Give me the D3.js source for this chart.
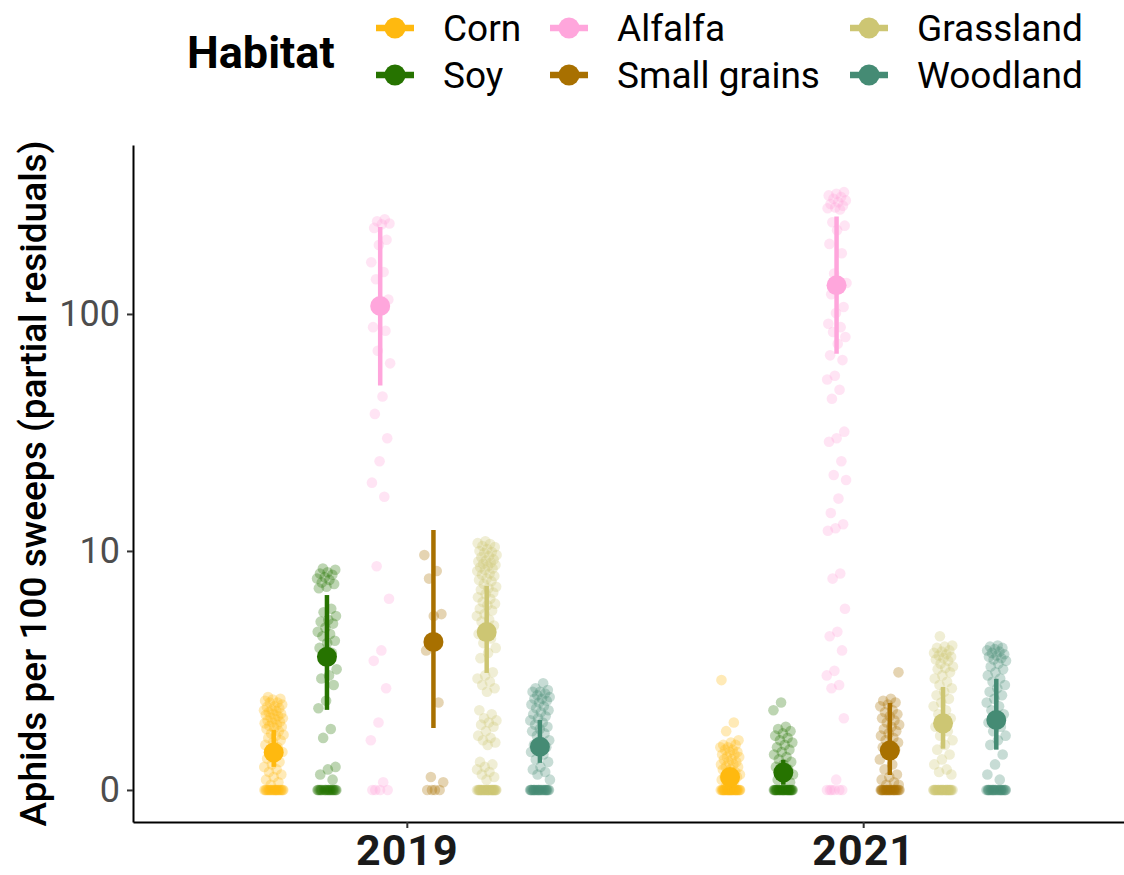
<!DOCTYPE html>
<html>
<head>
<meta charset="utf-8">
<script src="https://cdn.jsdelivr.net/npm/d3@7"></script>
<style>
  body { margin: 0; background: #fff; }
  text { font-family: Roboto, "Noto Sans", sans-serif; }
</style>
</head>
<body>
<svg id="chart" width="1124" height="875"></svg>
<script>
// ---- data ----------------------------------------------------------
const years = ["2019", "2021"];
const habitats = ["Corn", "Soy", "Alfalfa", "Small grains", "Grassland", "Woodland"];
const habitatColors = ["#FFB90F", "#267300", "#FFA6DC", "#A87000", "#CDC673", "#458B74"];
const yTickValues = [0, 10, 100];

// model estimates (aphids per 100 sweeps), order follows `habitats`
const est2019 = [0.74, 3.35, 108, 3.95, 4.39, 0.86];
const lo2019  = [0.45, 1.71, 50, 1.27, 2.78, 0.53];
const hi2019  = [1.23, 6.44, 232, 12.3, 7.06, 1.46];
const est2021 = [0.25, 0.34, 132, 0.78, 1.38, 1.46];
const lo2021  = [0.15, 0.10, 68, 0.29, 0.82, 0.80];
const hi2021  = [0.38, 0.59, 257, 1.89, 2.34, 2.59];

// partial residuals per habitat
const res2019Corn = [0,0,0,0,0,0,0,0,0,0,0,0,0,0,0,0,0,0,0,0,0,0,
  2.05,2.0,1.98,1.95,1.9,1.9,1.85,1.8,1.78,1.75,1.72,1.7,1.68,1.65,1.62,1.6,1.58,1.55,1.52,1.5,
  1.48,1.45,1.42,1.4,1.38,1.35,1.32,1.3,1.28,1.25,1.2,1.15,1.12,1.1,1.05,1.0,0.95,0.9,0.85,0.8,
  0.75,0.7,0.62,0.55,0.5,0.45,0.4,0.35,0.3,0.25,0.2,0.15,0.1];
const res2019Soy = [0,0,0,0,0,0,0,0,0,0,0,0,0,0,0,0,0,0,0,0,
  8.4,8.3,8.1,8.0,7.9,7.7,7.6,7.5,7.3,7.2,7.0,6.9,5.6,5.4,5.2,5.0,4.9,4.8,4.6,4.4,4.3,4.2,4.0,
  3.9,3.7,3.5,3.3,2.9,2.7,2.6,2.4,1.95,1.75,1.25,1.05,0.45,0.4,0.3,0.2];
const res2019Alfalfa = [0,0,0,0,
  250,245,240,238,230,205,195,165,150,140,115,108,88,85,70,62,45,38,30,24,19.5,17,8.6,6.2,
  3.6,3.2,2.3,1.4,1.0,0.15];
const res2019Small = [0,0,0,0, 9.6,8.2,7.6,5.3,5.2,3.6,1.9,0.25,0.15];
const res2019Grass = [0,0,0,0,0,0,0,0,0,0,0,0,0,0,0,0,0,0,0,0,0,0,0,0,0,0,0,0,0,0,
  11.0,10.8,10.7,10.5,10.4,10.2,10.0,9.9,9.8,9.6,9.5,9.4,9.2,9.1,9.0,8.9,8.8,8.7,
  8.6,8.5,8.4,8.3,8.2,8.0,7.9,7.8,7.6,7.5,7.4,7.2,7.0,6.9,6.8,6.6,6.5,6.3,6.2,6.0,5.9,5.8,
  5.6,5.5,5.3,5.2,5.0,4.9,4.7,4.5,4.3,4.1,3.9,3.7,3.5,3.3,2.8,2.7,2.6,2.5,2.4,2.3,2.2,
  1.7,1.6,1.5,1.45,1.4,1.35,1.3,1.2,1.1,1.05,1.0,0.95,0.9,0.55,0.5,0.45,0.4,0.35,0.3,0.25,0.2];
const res2019Wood = [0,0,0,0,0,0,0,0,0,0,0,0,0,0,0,0,0,0,0,0,0,0,0,0,0,
  2.45,2.3,2.25,2.2,2.2,2.15,2.1,2.05,2.0,2.0,1.95,1.9,1.85,1.8,1.75,1.7,1.65,1.6,1.55,1.5,
  1.45,1.4,1.35,1.3,1.25,1.2,1.15,1.1,1.0,0.95,0.9,0.85,0.8,0.75,0.7,0.6,0.55,0.45,0.4,0.35,0.3,0.2];

const res2021Corn = [0,0,0,0,0,0,0,0,0,0,0,0,0,0,0,0,0,0,0,0,0,0,0,0,0,0,0,0,0,0,
  2.55,1.4,1.2,1.0,0.95,0.9,0.9,0.85,0.85,0.8,0.8,0.75,0.75,0.7,0.7,0.65,0.65,0.6,0.6,0.55,
  0.55,0.5,0.5,0.45,0.45,0.4,0.4,0.35,0.35,0.3,0.3,0.25,0.25,0.2,0.2,0.15,0.1];
const res2021Soy = [0,0,0,0,0,0,0,0,0,0,0,0,0,0,0,0,0,0,0,0,0,0,0,0,0,0,0,0,0,0,
  1.9,1.7,1.3,1.25,1.2,1.15,1.1,1.05,1.0,0.95,0.9,0.85,0.8,0.75,0.7,0.65,0.6,0.55,0.5,0.45,
  0.4,0.35,0.3,0.25,0.2,0.15];
const res2021Alfalfa = [0,0,0,0,0,0,
  325,320,315,310,305,300,295,290,285,280,278,275,243,235,225,197,180,148,135,128,121,107,
  101,91,88,84,80,75,67,64,55,53,48,44,32,30,29,24,21,20,16.7,14.5,13,12.5,12.2,8,7.6,5.6,
  4.4,4.2,3.6,2.85,2.7,2.4,2.3,1.5,0.2];
const res2021Small = [0,0,0,0,0,0,0,0,0,0,0,0,0,0,0,0,0,0,0,0,0,0,0,0,0,
  2.8,2.0,1.95,1.9,1.85,1.8,1.7,1.65,1.6,1.55,1.5,1.45,1.4,1.35,1.3,1.25,1.2,1.15,1.1,1.05,
  1.0,0.95,0.9,0.85,0.8,0.7,0.6,0.5,0.4,0.3,0.25,0.2,0.15,0.1,0.1];
const res2021Grass = [0,0,0,0,0,0,0,0,0,0,0,0,0,0,0,0,0,0,0,0,0,0,0,0,0,0,0,0,0,0,
  4.2,3.8,3.75,3.7,3.6,3.55,3.5,3.45,3.4,3.35,3.3,3.25,3.2,3.1,3.0,2.95,2.9,2.8,2.7,2.6,2.5,
  2.4,2.3,2.2,2.1,2.0,1.9,1.8,1.7,1.6,1.5,1.4,1.3,1.2,1.1,1.0,0.9,0.8,0.7,0.6,0.5,0.4,0.35,0.3];
const res2021Wood = [0,0,0,0,0,0,0,0,0,0,0,0,0,0,0,0,0,0,0,0,0,0,0,0,0,
  3.8,3.75,3.7,3.65,3.6,3.55,3.5,3.45,3.4,3.35,3.3,3.25,3.2,3.1,3.0,2.9,2.8,2.7,2.6,2.5,2.4,
  2.3,2.2,2.1,2.0,1.9,1.8,1.7,1.6,1.5,1.4,1.3,1.2,1.1,1.0,0.9,0.7,0.5,0.3,0.2];

const residuals = {
  "2019": [res2019Corn, res2019Soy, res2019Alfalfa, res2019Small, res2019Grass, res2019Wood],
  "2021": [res2021Corn, res2021Soy, res2021Alfalfa, res2021Small, res2021Grass, res2021Wood]
};
const estimates = {
  "2019": { est: est2019, lo: lo2019, hi: hi2019 },
  "2021": { est: est2021, lo: lo2021, hi: hi2021 }
};

// ---- layout ----------------------------------------------------------
const svg = d3.select("#chart");
const panel = { left: 133, right: 1137, top: 145, bottom: 822 };

// pseudo-log transform: asinh(x / 2)
const pl = v => Math.asinh(v / 2);
const yT = d3.scaleLinear().domain([-0.31, 6.24]).range([panel.bottom, panel.top]);
const y = v => yT(pl(v));

const x = d3.scalePoint().domain(years).range([panel.left, panel.right]).padding(0.6);
const step = x.step();
const xd = d3.scaleBand().domain(habitats).range([-0.35 * step, 0.35 * step]);
const color = d3.scaleOrdinal().domain(habitats).range(habitatColors);
const cx = (yr, h) => x(yr) + xd(h) + xd.bandwidth() / 2;

// spread points sideways with a low-discrepancy sequence
const jitterWidth = 10;
const jitter = (i, k) => ((((i + 1) * 0.6180339887 + k * 0.3183) % 1) - 0.5) * 2 * jitterWidth;

// ---- residual points ----------------------------------------------
const pts = [];
years.forEach((yr, yi) => {
  habitats.forEach((h, hi) => {
    residuals[yr][hi].forEach((v, i) => {
      pts.push({ yr, h, v, dx: jitter(i, hi + yi * 6) });
    });
  });
});

svg.append("g").selectAll("circle").data(pts).join("circle")
  .attr("cx", d => cx(d.yr, d.h) + d.dx)
  .attr("cy", d => y(d.v))
  .attr("r", 5.3)
  .attr("fill", d => color(d.h))
  .attr("fill-opacity", 0.3);

// ---- estimates with intervals -------------------------------------
const ests = [];
years.forEach(yr => habitats.forEach((h, hi) => {
  ests.push({ yr, h, est: estimates[yr].est[hi], lo: estimates[yr].lo[hi], hi: estimates[yr].hi[hi] });
}));

const g = svg.append("g");
g.selectAll("line").data(ests).join("line")
  .attr("x1", d => cx(d.yr, d.h)).attr("x2", d => cx(d.yr, d.h))
  .attr("y1", d => y(d.lo)).attr("y2", d => y(d.hi))
  .attr("stroke", d => color(d.h))
  .attr("stroke-width", 4.5);
g.selectAll("circle").data(ests).join("circle")
  .attr("cx", d => cx(d.yr, d.h))
  .attr("cy", d => y(d.est))
  .attr("r", 10)
  .attr("fill", d => color(d.h));

// ---- axes ----------------------------------------------------------
const yAxis = svg.append("g")
  .attr("transform", `translate(${panel.left},0)`)
  .call(d3.axisLeft(yT)
    .tickValues(yTickValues.map(pl))
    .tickFormat((d, i) => yTickValues[i])
    .tickSize(6).tickPadding(7).tickSizeOuter(0));
yAxis.select(".domain").attr("stroke", "#000").attr("stroke-width", 2);
yAxis.selectAll(".tick line").attr("stroke", "#333").attr("stroke-width", 2);
yAxis.selectAll(".tick text")
  .attr("fill", "#4D4D4D").style("font-size", "36px").style("font-family", "Roboto");

const xAxis = svg.append("g")
  .attr("transform", `translate(0,${panel.bottom})`)
  .call(d3.axisBottom(x).tickSize(6).tickPadding(6).tickSizeOuter(0));
xAxis.select(".domain").attr("stroke", "#000").attr("stroke-width", 2);
xAxis.selectAll(".tick line").attr("stroke", "#333").attr("stroke-width", 2);
xAxis.selectAll(".tick text")
  .attr("fill", "#1A1A1A").style("font-size", "43px").style("font-weight", "bold")
  .style("letter-spacing", "1px")
  .style("font-family", "Roboto");

svg.append("text")
  .attr("transform", `translate(46,${(panel.top + panel.bottom) / 2}) rotate(-90)`)
  .attr("text-anchor", "middle")
  .style("font-size", "37px").style("font-weight", 500)
  .attr("fill", "#000")
  .text("Aphids per 100 sweeps (partial residuals)");

// ---- legend --------------------------------------------------------
const legend = svg.append("g");
legend.append("text")
  .attr("x", 187).attr("y", 68)
  .style("font-size", "45px").style("font-weight", "bold")
  .attr("fill", "#000")
  .text("Habitat");

const keyX = [395, 569, 869];
const rowY = [28, 75];
const items = legend.selectAll("g.item").data(habitats).join("g")
  .attr("class", "item")
  .attr("transform", (d, i) => `translate(${keyX[Math.floor(i / 2)]},${rowY[i % 2]})`);
items.append("line")
  .attr("x1", -19).attr("x2", 19)
  .attr("stroke", d => color(d)).attr("stroke-width", 6.5);
items.append("circle").attr("r", 10.5).attr("fill", d => color(d));
items.append("text")
  .attr("x", 48).attr("y", 0).attr("dy", "0.35em")
  .style("font-size", "37px")
  .attr("fill", "#000")
  .text(d => d);
</script>
</body>
</html>
